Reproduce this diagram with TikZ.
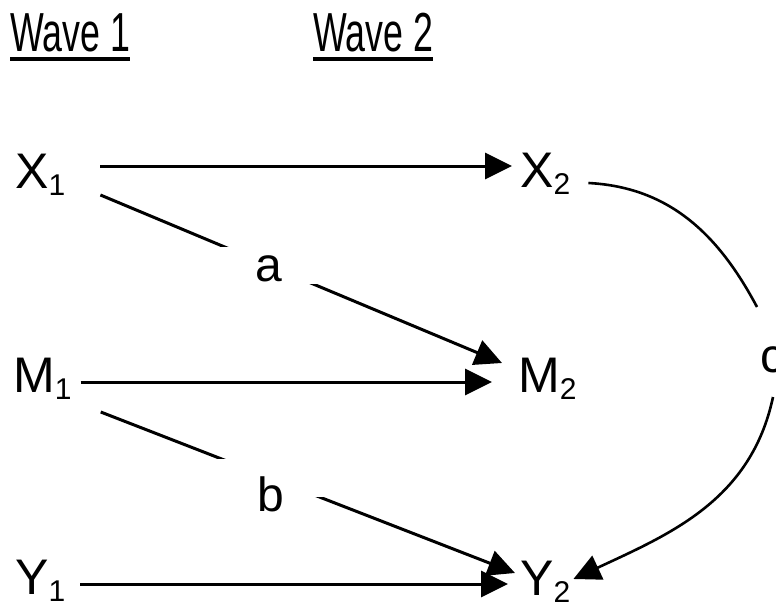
\documentclass[tikz,border=0pt]{standalone}
\usepackage{fontspec}
\setmainfont{Liberation Sans}
\usepackage{graphicx}
\usetikzlibrary{arrows.meta}

\newcommand{\wsub}[1]{\raisebox{-7pt}{\fontsize{30}{30}\selectfont #1}}

\begin{document}
\begin{tikzpicture}[x=1pt, y=-1pt,
    var/.style={anchor=base west, inner sep=0pt, font=\fontsize{50}{60}\selectfont},
    wave/.style={anchor=base west, inner sep=0pt, font=\fontsize{55}{60}\selectfont},
    coef/.style={fill=white, inner xsep=50pt, font=\fontsize{48}{56}\selectfont},
    arr/.style={line width=3pt, -{Triangle[length=27pt,width=26pt]}}]

    \useasboundingbox (0,0) rectangle (776,607);

    % Wave headings
    \node[wave] (w1) at (10,52) {\scalebox{0.65}[1]{Wave 1}};
    \node[wave] (w2) at (313,52) {\scalebox{0.65}[1]{Wave 2}};
    \draw[line width=4pt] ([yshift=-7pt]w1.base west) -- ([yshift=-7pt]w1.base east);
    \draw[line width=4pt] ([yshift=-7pt]w2.base west) -- ([yshift=-7pt]w2.base east);

    % Variables at wave 1
    \node[var] (X1) at (15,188) {X\wsub{1}};
    \node[var] (M1) at (13,392) {M\wsub{1}};
    \node[var] (Y1) at (15,594) {Y\wsub{1}};

    % Variables at wave 2
    \node[var] (X2) at (520,187) {X\wsub{2}};
    \node[var] (M2) at (518,392) {M\wsub{2}};
    \node[var] (Y2) at (520,595) {Y\wsub{2}};

    % Stability paths
    \draw[arr] ([xshift=35pt,yshift=22pt]X1.base east) -- ([xshift=-8pt,yshift=21pt]X2.base west);
    \draw[arr] ([xshift=9pt,yshift=10pt]M1.base east) -- ([xshift=-26pt,yshift=10pt]M2.base west);
    \draw[arr] ([xshift=15pt,yshift=10pt]Y1.base east) -- ([xshift=-12pt,yshift=11pt]Y2.base west);

    % Cross-lagged paths a and b
    \draw[arr] ([xshift=35pt,yshift=-7pt]X1.base east) -- node[coef, pos=0.419, inner ysep=18.6pt] (a) {\raisebox{-16.5pt}[0pt][0pt]{a}} ([xshift=-16pt,yshift=29pt]M2.base west);
    \draw[arr] ([xshift=29pt,yshift=-20pt]M1.base east) -- node[coef, pos=0.411, inner ysep=19.2pt] (b) {\raisebox{-33pt}[0pt][0pt]{b}} ([xshift=-5pt,yshift=22pt]Y2.base west);

    % Path c
    \node[var, font=\fontsize{48}{56}\selectfont] (c) at (760,372) {c};
    \draw[line width=2.6pt] ([xshift=18pt,yshift=4pt]X2.base east) to[out=-3, in=118] ([xshift=-3pt,yshift=65pt]c.base west);
    \draw[arr, line width=2.6pt] ([xshift=13pt,yshift=-25pt]c.base west) to[out=-102, in=25] ([xshift=3pt,yshift=16pt]Y2.base east);
\end{tikzpicture}
\end{document}
